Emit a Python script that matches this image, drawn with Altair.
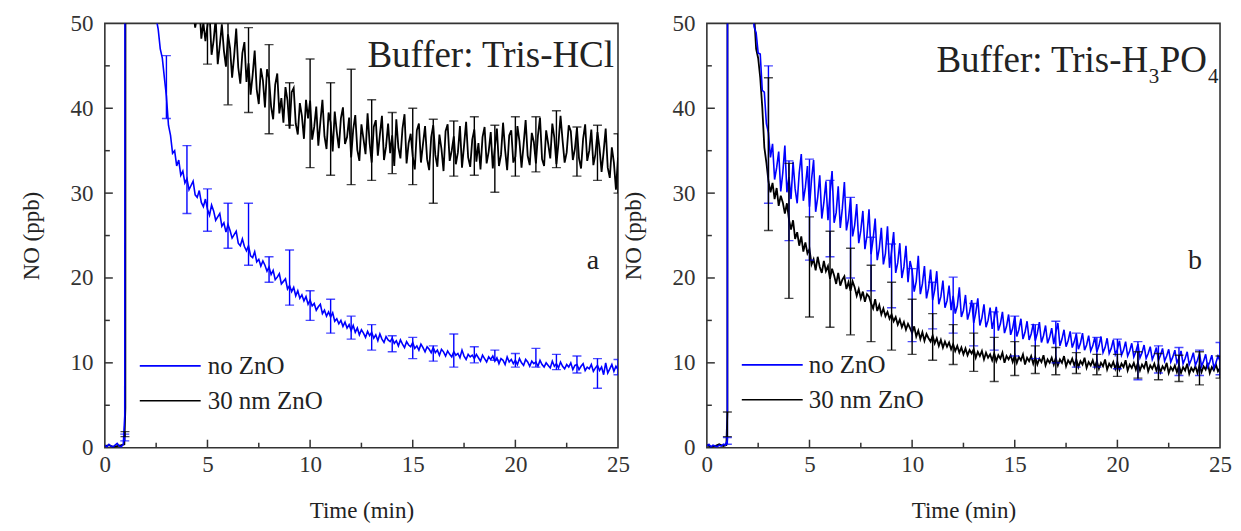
import altair as alt
import pandas as pd

FONT = "Liberation Serif"
STEP = 0.1

# ---------------- Panel a: Tris-HCl ----------------
# no ZnO (blue)
a_blue_early_t = [0.0, 0.1, 0.2, 0.3, 0.4, 0.5, 0.6, 0.7, 0.8, 0.9, 0.97, 1.05, 1.4, 1.8, 2.1]
a_blue_early_v = [0.3, 0.1, 0.4, 0.2, 0.1, 0.3, 0.5, 0.2, 0.1, 0.4, 3.8, 420, 260, 120, 75]
a_blue_t0 = 2.4
a_blue_v = [
    53.2, 50.6, 49.3, 47.0, 45.9, 43.6,
    41.4, 38.0, 36.8, 34.7, 35.0, 33.2, 33.9, 32.1, 32.6, 31.2,
    31.7, 30.4, 30.9, 31.4, 29.8, 29.5, 30.3, 28.9, 28.4, 29.3,
    28.1, 27.4, 28.6, 27.9, 26.8, 27.2, 27.6, 26.1, 26.5, 25.4,
    26.3, 25.6, 24.7, 25.1, 25.5, 24.1, 23.8, 24.6, 23.7, 23.2,
    23.8, 22.6, 22.4, 23.1, 21.9, 22.2, 21.4, 22.0, 21.5, 20.8,
    21.3, 20.4, 20.9, 19.8, 20.1, 20.5, 19.3, 19.6, 19.9, 18.7,
    19.1, 18.4, 18.9, 17.9, 18.5, 17.6, 18.0, 17.3, 17.8, 16.9,
    17.4, 16.7, 17.0, 16.2, 16.6, 16.9, 15.8, 16.2, 15.5, 16.0,
    15.4, 15.9, 14.9, 15.2, 14.6, 15.0, 14.3, 14.8, 14.1, 14.5,
    13.8, 14.4, 13.6, 14.1, 13.3, 13.9, 13.5, 13.0, 13.7, 13.2,
    13.6, 12.9, 13.3, 12.6, 13.4, 12.8, 12.4, 13.1, 12.7, 12.5,
    12.9, 12.3, 12.6, 12.0, 12.7, 12.2, 11.8, 12.5, 12.1, 11.9,
    12.4, 11.7, 12.0, 11.5, 12.2, 11.8, 11.3, 11.9, 11.6, 11.2,
    11.8, 11.2, 11.5, 10.9, 11.6, 11.3, 10.8, 11.4, 11.0, 10.7,
    11.3, 10.9, 11.1, 10.6, 11.5, 10.8, 10.4, 11.0, 10.7, 10.9,
    10.5, 11.0, 10.6, 10.2, 10.9, 10.5, 10.1, 10.7, 10.4, 10.8,
    10.2, 10.6, 9.9, 10.5, 10.3, 9.8, 10.7, 10.1, 10.4, 9.9,
    10.3, 9.8, 10.5, 10.0, 9.7, 10.4, 10.1, 9.6, 10.2, 9.9,
    10.1, 9.6, 10.3, 9.8, 9.5, 10.0, 9.7, 9.4, 10.2, 9.6,
    9.9, 9.4, 10.1, 9.6, 9.3, 9.8, 9.5, 10.0, 9.2, 9.7,
    9.8, 9.2, 9.6, 9.9, 9.1, 9.5, 9.3, 9.8, 9.0, 9.4,
    9.7, 9.1, 9.5, 8.6, 10.0, 8.8, 9.3, 9.8, 9.0, 9.6,
    9.2,
]
a_blue_err_t = [0.97, 3, 4, 5, 6, 7, 8, 9, 10, 11, 12, 13, 14, 15, 16, 17, 18, 19, 20, 21, 22, 23, 24, 25]
a_blue_err_lo = [0.8, 38.8, 27.6, 25.5, 23.5, 21.5, 19.5, 16.8, 15.0, 13.5, 12.8, 11.5, 11.3, 10.5, 10.2, 9.5, 10.0, 10.3, 9.5, 9.5, 9.2, 8.8, 7.0, 8.6]
a_blue_err_hi = [1.6, 46.2, 35.6, 30.5, 28.8, 28.8, 22.5, 23.3, 18.5, 17.5, 15.5, 14.5, 13.2, 13.0, 12.0, 13.4, 11.9, 11.5, 11.1, 11.7, 11.0, 10.8, 10.5, 10.4]

# 30 nm ZnO (black)
a_black_early_t = [0.0, 0.2, 0.4, 0.6, 0.8, 0.95, 1.0, 1.04, 1.6, 2.4, 3.2, 3.8, 4.1]
a_black_early_v = [0.2, 0.3, 0.1, 0.2, 0.3, 0.4, 4.7, 400, 240, 130, 80, 62, 55]
a_black_t0 = 4.3
a_black_v = [
    51.8, 49.5, 50.9, 52.4, 48.2, 50.1, 47.9,
    49.8, 51.2, 46.3, 48.0, 50.6, 45.2, 47.4, 49.9, 46.8, 44.9,
    48.7, 47.1, 43.6, 46.2, 49.4, 44.8, 42.9, 46.5, 47.8, 43.1,
    45.3, 41.6, 43.9, 46.8, 42.2, 40.5, 44.7, 43.3, 40.1, 44.6,
    43.5, 40.2, 38.7, 42.8, 44.1, 39.4, 41.2, 38.3, 42.5, 40.9,
    37.6, 41.9, 42.4, 38.2, 36.9, 40.6, 39.1, 36.4, 41.0, 38.8,
    40.9, 36.3, 37.8, 40.2, 35.6, 38.4, 41.0, 36.7, 35.2, 39.5,
    38.3, 34.9, 39.6, 37.2, 35.3, 38.8, 40.1, 35.8, 36.6, 38.9,
    34.2, 37.5, 39.2, 35.1, 33.8, 38.1, 36.4, 34.6, 39.4, 35.9,
    33.6, 37.8, 38.6, 34.4, 36.9, 39.1, 33.9, 35.5, 38.2, 34.7,
    36.8, 33.2, 38.7, 35.4, 34.1, 37.6, 39.3, 33.5, 35.9, 37.0,
    34.3, 32.8, 37.4, 38.2, 33.6, 35.8, 37.9, 34.0, 32.7, 36.6,
    38.0, 34.5, 33.1, 36.9, 35.2, 32.6, 37.3, 38.1, 33.8, 35.0,
    36.7, 33.4, 34.8, 37.9, 33.0, 35.6, 38.4, 34.2, 33.1, 36.3,
    37.5, 33.7, 35.9, 32.8, 36.6, 37.8, 33.5, 34.9, 37.2, 32.9,
    35.4, 37.6, 33.2, 34.5, 38.3, 35.1, 32.7, 36.8, 37.4, 33.6,
    34.3, 37.9, 36.1, 33.0, 35.7, 38.6, 34.4, 33.3, 37.1, 36.0,
    33.5, 36.8, 38.9, 34.0, 33.2, 37.4, 35.8, 34.1, 38.2, 36.5,
    33.4, 35.9, 39.1, 36.2, 33.6, 34.8, 38.0, 37.3, 33.9, 35.2,
    37.7, 34.1, 32.9, 36.4, 38.1, 33.8, 35.0, 37.5, 33.3, 34.6,
    37.2, 35.3, 32.5, 34.9, 37.6, 33.0, 31.8, 35.4, 33.6, 30.4,
    34.2,
]
a_black_err_t = [0.98, 5, 6, 7, 8, 9, 10, 11, 12, 13, 14, 15, 16, 17, 18, 19, 20, 21, 22, 23, 24, 25]
a_black_err_lo = [1.3, 45.2, 40.4, 39.5, 37.0, 38.0, 33.0, 32.1, 31.0, 31.5, 32.3, 31.0, 28.8, 32.0, 32.1, 30.1, 32.0, 32.5, 33.0, 32.0, 31.5, 30.0]
a_black_err_hi = [1.9, 55.0, 54.0, 49.5, 47.5, 43.0, 45.8, 43.0, 44.6, 41.0, 39.5, 40.0, 38.7, 38.5, 39.0, 38.0, 39.0, 39.0, 39.7, 37.8, 38.0, 37.0]

# ---------------- Panel b: Tris-H3PO4 ----------------
b_blue_early_t = [0.0, 0.1, 0.2, 0.3, 0.4, 0.5, 0.6, 0.7, 0.8, 0.9, 1.0, 1.05, 1.4, 1.8, 2.0]
b_blue_early_v = [0.2, 0.4, 0.1, 0.3, 0.2, 0.1, 0.3, 0.2, 0.4, 0.3, 0.9, 420, 250, 110, 70]
b_blue_t0 = 2.2
b_blue_v = [
    53.0, 49.6, 48.9, 46.5, 46.4, 42.1, 41.9, 38.2,
    37.1, 34.2, 35.8, 31.6, 33.0, 34.9, 30.2, 32.4, 35.6, 30.1,
    31.9, 29.3, 33.7, 30.5, 28.8, 32.4, 34.6, 29.1, 30.7, 33.2,
    28.4, 31.6, 33.9, 27.8, 29.5, 32.1, 27.0, 28.9, 31.4, 26.8,
    29.9, 32.6, 26.5, 27.7, 30.8, 25.9, 28.2, 31.3, 25.6, 27.0,
    29.4, 24.9, 26.2, 28.7, 24.1, 25.6, 27.9, 23.4, 25.0, 28.1,
    22.8, 24.6, 27.0, 22.1, 23.5, 25.9, 21.6, 22.9, 26.1, 21.2,
    23.2, 25.4, 20.6, 21.8, 24.1, 20.0, 21.3, 23.8, 19.5, 22.0,
    20.9, 18.4, 19.6, 22.6, 18.1, 19.3, 21.4, 17.6, 18.8, 21.0,
    17.4, 18.6, 20.8, 16.9, 17.8, 19.7, 16.5, 17.3, 19.1, 16.2,
    17.9, 15.8, 16.7, 18.9, 15.4, 16.2, 18.0, 15.1, 16.0, 17.4,
    14.7, 15.9, 17.6, 14.4, 15.3, 16.9, 14.2, 15.0, 16.5, 14.0,
    15.2, 16.6, 13.8, 14.6, 16.0, 13.5, 14.3, 15.7, 13.3, 14.1,
    15.5, 13.1, 13.9, 15.2, 12.8, 13.6, 14.9, 12.7, 13.4, 14.6,
    12.6, 13.5, 14.8, 12.4, 13.2, 14.4, 12.3, 13.0, 14.1, 12.2,
    13.6, 14.7, 12.0, 12.8, 13.9, 11.9, 12.6, 13.7, 11.8, 12.5,
    13.4, 11.6, 12.3, 13.5, 11.5, 12.1, 13.2, 11.4, 12.0, 13.0,
    11.3, 12.0, 13.1, 11.2, 11.8, 12.9, 11.1, 11.7, 12.7, 11.0,
    11.6, 12.6, 10.9, 11.5, 12.5, 10.8, 11.4, 12.3, 10.7, 11.3,
    12.2, 10.6, 11.2, 12.1, 10.5, 11.1, 11.9, 10.4, 11.0, 11.8,
    10.3, 10.9, 11.7, 10.2, 10.8, 11.6, 10.1, 10.7, 11.5, 10.0,
    10.6, 11.4, 9.9, 10.5, 11.3, 9.8, 10.4, 11.2, 9.7, 10.3,
    11.1, 9.6, 10.2, 11.0, 9.5, 10.1, 10.9, 9.4, 10.0, 10.8,
    10.2,
]
b_blue_err_t = [1.0, 3, 4, 5, 6, 7, 8, 9, 10, 11, 12, 13, 14, 15, 16, 17, 18, 19, 20, 21, 22, 23, 24, 25]
b_blue_err_lo = [0.4, 28.8, 24.4, 22.1, 22.5, 20.0, 18.5, 16.5, 12.5, 14.0, 13.5, 12.0, 11.5, 10.8, 10.5, 10.0, 9.5, 9.5, 9.3, 8.0, 8.8, 8.5, 8.5, 8.6]
b_blue_err_hi = [1.2, 45.0, 33.8, 34.0, 31.5, 29.5, 24.8, 24.0, 21.1, 19.5, 20.1, 17.0, 16.0, 15.5, 14.5, 14.9, 13.5, 13.0, 12.8, 12.5, 12.0, 11.8, 11.5, 12.4]

b_black_early_t = [0.0, 0.2, 0.4, 0.6, 0.8, 0.95, 1.0, 1.03, 1.5, 1.9, 2.1]
b_black_early_v = [0.3, 0.1, 0.2, 0.4, 0.2, 0.3, 4.2, 400, 200, 95, 66]
b_black_t0 = 2.3
b_black_v = [
    51.2, 47.0, 45.9, 43.6, 40.1, 35.4, 33.6,
    31.4, 30.1, 31.2, 29.3, 30.6, 28.5, 29.7, 28.9, 27.6, 28.8,
    26.9, 25.7, 26.8, 24.6, 25.4, 23.8, 24.9, 23.1, 24.2, 22.9,
    23.4, 21.6, 22.2, 20.9, 22.5, 21.3, 20.6, 22.0, 20.8, 21.4,
    19.9, 21.1, 20.3, 19.3, 20.6, 19.1, 19.8, 20.2, 18.7, 19.5,
    18.5, 19.6, 18.9, 17.9, 18.7, 17.6, 18.4, 17.2, 18.1, 17.8,
    17.0, 16.4, 17.5, 16.1, 16.8, 15.7, 16.4, 15.5, 16.0, 15.2,
    15.7, 14.9, 15.4, 14.5, 15.1, 14.2, 14.8, 13.9, 14.6, 14.1,
    13.5, 14.3, 13.1, 13.8, 12.8, 13.6, 12.6, 13.4, 12.9, 12.5,
    13.2, 12.3, 12.9, 12.0, 12.7, 11.8, 12.5, 11.9, 12.4, 11.6,
    12.2, 11.4, 12.0, 11.2, 11.8, 11.0, 11.7, 10.9, 11.5, 11.1,
    11.6, 10.6, 11.3, 10.8, 11.4, 10.4, 11.2, 10.6, 11.0, 10.3,
    11.1, 10.2, 10.9, 10.5, 11.2, 10.0, 10.8, 10.4, 10.9, 10.1,
    10.9, 10.0, 10.7, 10.3, 11.0, 9.8, 10.6, 10.2, 10.8, 9.9,
    10.7, 9.8, 10.5, 10.1, 10.9, 9.7, 10.4, 10.0, 10.6, 9.8,
    10.6, 9.7, 10.4, 10.0, 10.8, 9.6, 10.3, 9.9, 10.5, 9.7,
    10.4, 9.5, 10.2, 9.8, 10.6, 9.4, 10.1, 9.7, 10.3, 9.5,
    10.2, 9.3, 10.0, 9.6, 10.4, 9.2, 9.9, 9.5, 10.1, 9.3,
    10.1, 9.2, 9.9, 9.5, 10.3, 9.1, 9.8, 9.4, 10.0, 9.2,
    10.0, 9.1, 9.8, 9.4, 10.2, 9.0, 9.7, 9.3, 9.9, 9.1,
    9.8, 8.9, 9.6, 9.2, 10.0, 8.8, 9.5, 9.1, 9.7, 8.9,
    9.7, 8.8, 9.5, 9.1, 9.9, 8.7, 9.4, 9.0, 9.6, 8.8,
    9.7, 8.9, 9.6, 9.2, 10.0, 8.8, 9.5, 9.1, 9.8, 9.0,
    9.4,
]
b_black_err_t = [1.0, 3, 4, 5, 6, 7, 8, 9, 10, 11, 12, 13, 14, 15, 16, 17, 18, 19, 20, 21, 22, 23, 24, 25]
b_black_err_lo = [1.3, 25.6, 17.6, 15.4, 14.2, 13.3, 12.5, 11.5, 11.0, 10.3, 9.8, 9.0, 7.8, 8.5, 8.75, 8.6, 8.75, 8.6, 8.4, 8.2, 8.0, 7.8, 7.4, 8.2]
b_black_err_hi = [4.2, 43.6, 33.5, 27.2, 25.5, 23.5, 21.5, 19.5, 17.5, 15.8, 14.5, 13.5, 13.0, 12.5, 12.0, 11.8, 11.2, 11.0, 11.0, 11.3, 11.1, 10.9, 11.3, 10.8]

# ---------------- axis / text ----------------
x_label_values = [0, 5, 10, 15, 20, 25]
y_label_values = [0, 10, 20, 30, 40, 50]
x_major_ticks = [5, 10, 15, 20]
x_minor_ticks = [2.5, 7.5, 12.5, 17.5, 22.5]
y_major_ticks = [10, 20, 30, 40]
y_minor_ticks = [5, 15, 25, 35, 45]
legend_labels = ["no ZnO", "30 nm ZnO"]
legend_colors = ["#0000FF", "#000000"]
ann_a = "Buffer: Tris-HCl"
# panel b title split into normal text and subscript digits: Buffer: Tris-H3PO4
ann_b_parts = ["Buffer: Tris-H", "3", "PO", "4"]
letters = ["a", "b"]

W, H = 514, 425
BLUE, BLACK = "#0000FF", "#000000"


def series(early_t, early_v, t0, vals):
    t = list(early_t) + [round(t0 + i * STEP, 2) for i in range(len(vals))]
    v = list(early_v) + list(vals)
    return pd.DataFrame({"t": t, "v": v})


def errs(t, lo, hi):
    return pd.DataFrame({"t": t, "lo": lo, "hi": hi})


xscale = alt.Scale(domain=[0, 25], nice=False, zero=False)
yscale = alt.Scale(domain=[0, 50], nice=False, zero=False)
common_axis = dict(
    labelFont=FONT, titleFont=FONT, labelFontSize=23, titleFontSize=23,
    titleFontWeight="normal", labelColor="#333333", titleColor="#222222",
    grid=False, ticks=False, tickSize=0, domain=False, format="d", labelFlush=False,
)
xaxis = alt.Axis(values=x_label_values, title="Time (min)", labelPadding=6,
                 titlePadding=23, **common_axis)
yaxis = alt.Axis(values=y_label_values, title="NO (ppb)", labelPadding=12,
                 titlePadding=26, **common_axis)


def X(field):
    return alt.X(field, type="quantitative", scale=xscale, axis=xaxis)


def Y(field):
    return alt.Y(field, type="quantitative", scale=yscale, axis=yaxis)


def line_layer(df, color, lw):
    return alt.Chart(df).mark_line(color=color, strokeWidth=lw, clip=True).encode(
        x=X("t"), y=Y("v"))


def err_layers(df, color):
    rule = alt.Chart(df).mark_rule(color=color, strokeWidth=1.4, clip=True).encode(
        x=X("t"), y=Y("lo"), y2="hi")
    cap_lo = alt.Chart(df).mark_tick(color=color, orient="horizontal", size=9,
                                     thickness=1.4, clip=True).encode(x=X("t"), y=Y("lo"))
    cap_hi = alt.Chart(df).mark_tick(color=color, orient="horizontal", size=9,
                                     thickness=1.4, clip=True).encode(x=X("t"), y=Y("hi"))
    return [rule, cap_lo, cap_hi]


def tick_layers():
    tk = "#333333"
    xm = alt.Chart(pd.DataFrame({"p": x_major_ticks})).mark_rule(color=tk, strokeWidth=1.5).encode(
        x=X("p"), y=alt.value(H), y2=alt.value(H - 8))
    xn = alt.Chart(pd.DataFrame({"p": x_minor_ticks})).mark_rule(color=tk, strokeWidth=1.5).encode(
        x=X("p"), y=alt.value(H), y2=alt.value(H - 5))
    ym = alt.Chart(pd.DataFrame({"p": y_major_ticks})).mark_rule(color=tk, strokeWidth=1.5).encode(
        y=Y("p"), x=alt.value(0), x2=alt.value(8))
    yn = alt.Chart(pd.DataFrame({"p": y_minor_ticks})).mark_rule(color=tk, strokeWidth=1.5).encode(
        y=Y("p"), x=alt.value(0), x2=alt.value(5))
    return [xm, xn, ym, yn]


def text_layer(txt, x, y, size, align, baseline="alphabetic"):
    d = pd.DataFrame({"label": [txt]})
    return alt.Chart(d).mark_text(font=FONT, fontSize=size, color="#222222",
                                  align=align, baseline=baseline).encode(
        text="label:N", x=alt.value(x), y=alt.value(y))


def legend_layers(lx0, lx1, ly0, ly1, tx):
    out = []
    for lab, col, yy in zip(legend_labels, legend_colors, [ly0, ly1]):
        d = pd.DataFrame({"label": [lab]})
        out.append(alt.Chart(d).mark_rule(color=col, strokeWidth=1.6).encode(
            x=alt.value(lx0), x2=alt.value(lx1), y=alt.value(yy)))
        out.append(text_layer(lab, tx, yy + 8, 25, "left"))
    return out


def panel(blue_df, blue_err, black_df, black_err, ann_layers, letter, leg):
    layers = tick_layers()
    layers += [line_layer(black_df, BLACK, 1.8), line_layer(blue_df, BLUE, 1.6)]
    layers += err_layers(blue_err, BLUE)
    layers += err_layers(black_err, BLACK)
    layers += legend_layers(*leg)
    layers += ann_layers
    layers.append(text_layer(letter, 489, 246, 28, "center"))
    return alt.layer(*layers).properties(width=W, height=H)


ann_a_layers = [text_layer(ann_a, 510, 44, 37, "right")]
ann_b_layers = [
    text_layer(ann_b_parts[0], 442, 49, 37, "right"),
    text_layer(ann_b_parts[1], 453, 60, 21, "right"),
    text_layer(ann_b_parts[2], 501, 49, 37, "right"),
    text_layer(ann_b_parts[3], 502, 60, 21, "left"),
]

left = panel(
    series(a_blue_early_t, a_blue_early_v, a_blue_t0, a_blue_v),
    errs(a_blue_err_t, a_blue_err_lo, a_blue_err_hi),
    series(a_black_early_t, a_black_early_v, a_black_t0, a_black_v),
    errs(a_black_err_t, a_black_err_lo, a_black_err_hi),
    ann_a_layers, letters[0], (35, 96, 343, 378, 103),
)
right = panel(
    series(b_blue_early_t, b_blue_early_v, b_blue_t0, b_blue_v),
    errs(b_blue_err_t, b_blue_err_lo, b_blue_err_hi),
    series(b_black_early_t, b_black_early_v, b_black_t0, b_black_v),
    errs(b_black_err_t, b_black_err_lo, b_black_err_hi),
    ann_b_layers, letters[1], (35, 96, 342, 377, 102),
)

chart = alt.hconcat(left, right, spacing=89, bounds="flush").properties(
    padding={"left": 12, "top": 3, "right": 0, "bottom": 0}
).configure_view(
    stroke="#333333", strokeWidth=1.6
)

chart.save("out.html", embed_options={"renderer": "svg", "actions": False})
